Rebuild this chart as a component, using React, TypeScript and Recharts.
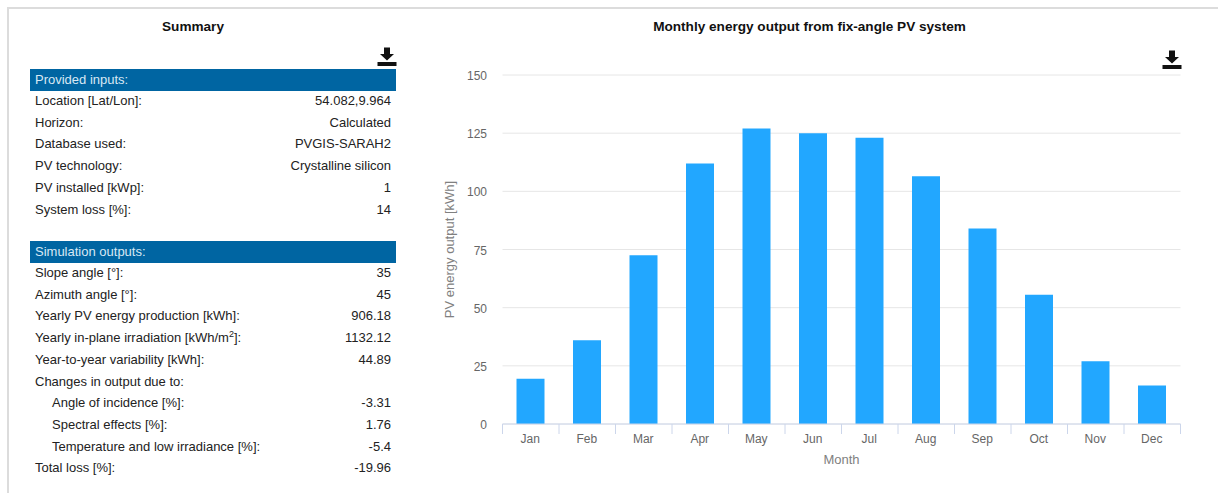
import { BarChart, Bar, XAxis, YAxis, CartesianGrid, Label } from 'recharts'

const months = ['Jan', 'Feb', 'Mar', 'Apr', 'May', 'Jun', 'Jul', 'Aug', 'Sep', 'Oct', 'Nov', 'Dec']
const output = [19.5, 36, 72.5, 112, 127, 125, 123, 106.5, 84, 55.5, 27, 16.5]
const yTicks = [0, 25, 50, 75, 100, 125, 150]

const inputLabels = ['Location [Lat/Lon]:', 'Horizon:', 'Database used:', 'PV technology:', 'PV installed [kWp]:', 'System loss [%]:']
const inputValues = ['54.082,9.964', 'Calculated', 'PVGIS-SARAH2', 'Crystalline silicon', '1', '14']
const outputLabels = [
  'Slope angle [°]:',
  'Azimuth angle [°]:',
  'Yearly PV energy production [kWh]:',
  'Yearly in-plane irradiation [kWh/m^2]:',
  'Year-to-year variability [kWh]:',
  'Changes in output due to:',
  'Angle of incidence [%]:',
  'Spectral effects [%]:',
  'Temperature and low irradiance [%]:',
  'Total loss [%]:',
]
const outputValues = ['35', '45', '906.18', '1132.12', '44.89', '', '-3.31', '1.76', '-5.4', '-19.96']
const indented = [6, 7, 8]

const chartData = months.map((month, i) => ({ month, output: output[i] }))

const FONT = '"Liberation Sans", Arial, sans-serif'
const HEADER_BLUE = '#0065a2'
const BAR_BLUE = '#22a7ff'
const AXIS_LINE = '#ccd6eb'
const GREY = '#666666'
const TITLE_GREY = '#808080'
const BAND = 56.5

const MonthTick = ({ x, y, payload, index }: any) => (
  <g>
    <line x1={x - BAND / 2} x2={x - BAND / 2} y1={y - 8} y2={y + 2} stroke={AXIS_LINE} />
    {index === months.length - 1 && (
      <line x1={x + BAND / 2} x2={x + BAND / 2} y1={y - 8} y2={y + 2} stroke={AXIS_LINE} />
    )}
    <text x={x - 0.5} y={y + 11} textAnchor="middle" fill={GREY} fontSize={12} fontFamily={FONT}>
      {payload.value}
    </text>
  </g>
)

const ValueTick = ({ x, y, payload }: any) => (
  <text x={x - 1.5} y={y + 5} textAnchor="end" fill={GREY} fontSize={12} fontFamily={FONT}>
    {payload.value}
  </text>
)

const DownloadIcon = ({ left, top }: { left: number; top: number }) => (
  <svg width={20} height={20} style={{ position: 'absolute', left, top }}>
    <path d="M7 0.5h6v6.5h4l-7 6.5-7-6.5h4z" fill="#111" />
    <rect x={0.5} y={15} width={19} height={4} fill="#111" />
  </svg>
)

// "^2" in a label marks the superscript
const RowLabel = ({ text }: { text: string }) => {
  const [head, tail] = text.split('^2')
  if (tail === undefined) return <>{text}</>
  return (
    <>
      {head}
      <sup style={{ fontSize: 9, lineHeight: 0 }}>2</sup>
      {tail}
    </>
  )
}

const Row = ({ top, label, value, indent }: { top: number; label: string; value: string; indent?: boolean }) => (
  <div style={{ position: 'absolute', top, left: 30, width: 366, height: 21, lineHeight: '21px', fontSize: 13, color: '#222' }}>
    <span style={{ position: 'absolute', left: indent ? 22 : 5, whiteSpace: 'nowrap' }}>
      <RowLabel text={label} />
    </span>
    <span style={{ position: 'absolute', right: 5, whiteSpace: 'nowrap' }}>{value}</span>
  </div>
)

const Header = ({ top, text }: { top: number; text: string }) => (
  <div
    style={{
      position: 'absolute',
      top,
      left: 30,
      width: 366,
      height: 22,
      lineHeight: '21px',
      background: HEADER_BLUE,
      color: '#d8e8f4',
      fontSize: 13,
      paddingLeft: 5,
      boxSizing: 'border-box',
    }}
  >
    {text}
  </div>
)

export default function App() {
  return (
    <div style={{ position: 'absolute', left: 0, top: 0, width: 1218, height: 493, background: '#fff', overflow: 'hidden', fontFamily: FONT }}>
      <div style={{ position: 'absolute', left: 7, top: 7, width: 1211, height: 486, borderTop: '2px solid #dcdcdc', borderLeft: '2px solid #dcdcdc', boxSizing: 'border-box' }} />

      <div style={{ position: 'absolute', left: 30, top: 19, width: 326, textAlign: 'center', fontWeight: 'bold', fontSize: 13.6, color: '#111' }}>Summary</div>
      <DownloadIcon left={377} top={47} />

      <Header top={69} text="Provided inputs:" />
      {inputLabels.map((label, i) => (
        <Row key={label} top={90 + i * 21.7} label={label} value={inputValues[i]} />
      ))}

      <Header top={241} text="Simulation outputs:" />
      {outputLabels.map((label, i) => (
        <Row key={label} top={262 + i * 21.7} label={label} value={outputValues[i]} indent={indented.includes(i)} />
      ))}

      <div style={{ position: 'absolute', left: 501, top: 19, width: 617, textAlign: 'center', fontWeight: 'bold', fontSize: 13.6, color: '#111' }}>
        Monthly energy output from fix-angle PV system
      </div>

      <div style={{ position: 'absolute', left: 0, top: 0 }}>
        <BarChart width={1218} height={493} data={chartData} margin={{ top: 75, right: 37.5, bottom: 0, left: 0 }} barCategoryGap={0}>
          <CartesianGrid horizontal vertical={false} stroke="#e6e6e6" />
          <XAxis
            dataKey="month"
            height={69}
            tickLine={false}
            axisLine={{ stroke: AXIS_LINE }}
            interval={0}
            tick={<MonthTick />}
          >
            <Label value="Month" position="insideBottom" offset={29} fill={TITLE_GREY} fontSize={13} fontFamily={FONT} />
          </XAxis>
          <YAxis
            width={502.5}
            domain={[0, 150]}
            ticks={yTicks}
            axisLine={false}
            tickLine={false}
            tickMargin={8}
            tick={<ValueTick />}
          >
            <Label value="PV energy output [kWh]" angle={-90} position="insideRight" offset={53.5} style={{ textAnchor: 'middle' }} fill={TITLE_GREY} fontSize={13} fontFamily={FONT} />
          </YAxis>
          <Bar dataKey="output" fill={BAR_BLUE} barSize={28} isAnimationActive={false} />
        </BarChart>
      </div>
      <DownloadIcon left={1162} top={50} />
    </div>
  )
}
